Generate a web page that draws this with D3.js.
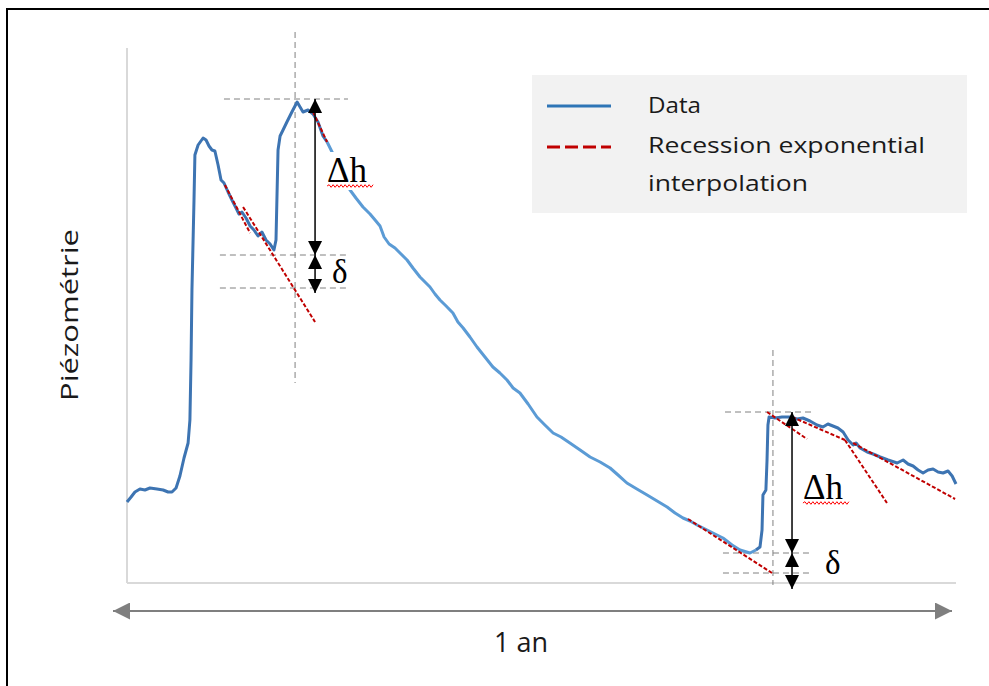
<!DOCTYPE html>
<html>
<head>
<meta charset="utf-8">
<script src="https://cdn.jsdelivr.net/npm/d3@7"></script>
<style>
  body { margin: 0; background: #fff; }
  svg { display: block; }
</style>
</head>
<body>
<svg id="chart" width="989" height="686"></svg>
<script>
// piezometric record over one year: day of year / level (arbitrary units)
var days = [0, 1.8, 3.5, 5.7, 7.9, 10.1, 13.2, 15.9, 18.1, 19.8, 21.6, 23.3, 25.1, 26.9, 27.7, 28.2, 28.6, 29.5, 29.9,
  31.3, 33.5, 34.8, 36.1, 37.4, 38.7, 40.1, 41.4, 42.7, 44.5, 46.2, 48.0, 49.3, 50.6, 52.4, 54.2, 55.9, 57.7, 59.4,
  61.2, 63.0, 64.7, 65.6, 66.0, 66.5, 67.4, 68.7, 70.4, 72.6, 74.9, 76.2, 77.5, 79.7, 81.9, 84.1, 86.3, 88.1,
  91.6, 95.1, 98.2, 100.8, 103.9, 107.0, 109.6, 111.4, 113.2, 115.4, 118.0, 120.2, 123.3, 125.9, 129.0, 131.2,
  133.4, 135.6, 137.8, 140.5, 143.5, 145.7, 148.0, 151.0, 154.1, 157.6, 161.1, 164.2, 167.3, 170.0, 173.0, 176.6,
  180.5, 184.0, 187.6, 191.1, 195.0, 199.5, 203.9, 208.3, 212.7, 216.2, 220.1, 224.5, 229.0, 233.4, 237.8, 241.3,
  244.8, 247.9, 251.0, 254.5, 258.0, 262.4, 266.4, 269.9, 274.3, 276.9, 278.7, 279.6, 280.0, 281.3, 281.8, 282.2,
  282.7, 285.3, 288.4, 291.9, 295.0, 297.6, 300.7, 303.8, 306.4, 308.6, 310.8, 313.0, 315.3, 317.5, 319.7, 321.0,
  322.8, 325.9, 328.5, 331.6, 335.1, 339.1, 341.7, 343.9, 346.1, 348.3, 350.5, 352.7, 354.9, 357.1, 359.3, 361.5,
  363.3, 365.0];
var levels = [16.2, 17.2, 18.2, 18.8, 18.6, 19.0, 18.8, 18.6, 18.2, 18.2, 19.0, 21.4, 25.0, 28.0, 32.6, 44.6, 58.6, 76.6, 85.6,
  87.6, 89.0, 88.6, 87.4, 86.6, 86.4, 83.6, 80.6, 80.0, 78.2, 76.6, 75.0, 73.8, 74.2, 73.0, 71.4, 70.6, 69.4, 70.2,
  68.6, 67.8, 66.6, 68.6, 76.6, 86.6, 89.4, 90.6, 92.2, 94.2, 96.2, 95.2, 94.2, 94.6, 93.8, 92.2, 89.4, 88.2,
  85.0, 81.6, 78.6, 77.0, 75.2, 73.8, 72.4, 71.4, 69.2, 67.8, 67.0, 66.0, 64.6, 63.0, 61.2, 60.2,
  59.2, 57.8, 56.6, 55.4, 54.0, 52.2, 51.0, 49.2, 47.2, 45.2, 43.2, 42.0, 40.6, 39.0, 38.0, 35.8,
  33.2, 31.6, 30.0, 29.2, 28.0, 26.6, 25.2, 24.2, 23.0, 21.6, 20.0, 18.8, 17.6, 16.4, 15.2, 14.0,
  13.0, 12.4, 11.6, 10.8, 10.0, 9.0, 7.6, 6.6, 6.0, 6.6, 7.2, 10.6, 17.6, 18.6, 24.6, 31.6,
  33.2, 33.0, 33.2, 33.2, 32.8, 33.0, 32.4, 31.6, 31.2, 31.8, 31.4, 31.0, 30.2, 28.6, 27.6, 28.0,
  27.0, 26.2, 25.8, 25.2, 24.6, 24.0, 24.6, 23.8, 23.4, 22.6, 22.0, 22.6, 22.8, 22.2, 22.0, 22.4,
  21.4, 19.8];

// exponential recession fits, one per segment: start day/level, end day/level
var recStartDay = [81.9, 43.1, 51.1, 247.0, 281.8, 292.8, 316.1, 319.7];
var recStartLevel = [94.2, 79.6, 75.2, 12.8, 34.2, 33.2, 28.6, 28.0];
var recEndDay = [88.1, 54.2, 82.8, 284.0, 299.4, 316.1, 334.6, 364.6];
var recEndLevel = [88.2, 70.0, 52.2, 2.0, 28.8, 28.6, 16.0, 16.8];

// the two recharge events
var peakDay = [74.0, 284.4];
var peakLevel = [96.8, 34.2];
var troughLevel = [65.6, 6.0];
var projLevel = [59.0, 2.0];
var deltaTip = [58.0, -1.2];
var arrowDay = [82.8, 292.8];
var guideFrom = [40.9, 262.4];
var guideTo = [97.3, 301.6];
var peakGuideFrom = [42.7, 263.3];
var vTop = [110.2, 46.6];
var vBottom = [40.0, -0.4];
var dhDay = [88.1, 297.6];
var dhLevel = [80.2, 16.8];
var dDay = [90.3, 307.3];
var dLevel = [60.0, 1.8];

var legendLabels = ["Data", "Recession exponential", "interpolation"];

var svg = d3.select("#chart");
var x = d3.scaleLinear().domain([0, 365]).range([127, 956]);
var y = d3.scaleLinear().domain([0, 107]).range([583, 48]);

var defs = svg.append("defs");
function marker(id, color, w, h) {
  defs.append("marker")
    .attr("id", id)
    .attr("viewBox", "0 0 10 10")
    .attr("refX", 10).attr("refY", 5)
    .attr("markerUnits", "userSpaceOnUse")
    .attr("markerWidth", w).attr("markerHeight", h)
    .attr("orient", "auto-start-reverse")
    .append("path").attr("d", "M0,0L10,5L0,10Z").attr("fill", color);
}
marker("blackHead", "#000", 14, 15);
marker("greyHead", "#7f7f7f", 17, 17);

svg.append("rect").attr("width", 989).attr("height", 686).attr("fill", "#fff");
// frame
svg.append("rect").attr("x", 7).attr("y", 9).attr("width", 1100).attr("height", 800)
  .attr("fill", "none").attr("stroke", "#000").attr("stroke-width", 2);

// axes (no ticks)
svg.append("line").attr("x1", x(0)).attr("x2", x(0)).attr("y1", y(107)).attr("y2", y(0))
  .attr("stroke", "#d9d9d9").attr("stroke-width", 2);
svg.append("line").attr("x1", x(0)).attr("x2", x(365)).attr("y1", y(0)).attr("y2", y(0))
  .attr("stroke", "#d9d9d9").attr("stroke-width", 2);

var pts = days.map(function (d, i) { return [d, levels[i]]; });
var line = d3.line().x(function (d) { return x(d[0]); }).y(function (d) { return y(d[1]); });

// grey guides
var guides = svg.append("g").attr("stroke", "#808080").attr("stroke-width", 1)
  .attr("stroke-dasharray", "6,4").attr("fill", "none");
peakDay.forEach(function (d, i) {
  guides.append("line").attr("x1", x(d)).attr("x2", x(d)).attr("y1", y(vTop[i])).attr("y2", y(vBottom[i]));
  guides.append("line").attr("x1", x(peakGuideFrom[i])).attr("x2", x(guideTo[i]))
    .attr("y1", y(peakLevel[i])).attr("y2", y(peakLevel[i]));
  [troughLevel[i], projLevel[i]].forEach(function (v) {
    guides.append("line").attr("x1", x(guideFrom[i])).attr("x2", x(guideTo[i])).attr("y1", y(v)).attr("y2", y(v));
  });
});

// data line: dark blue during the events, lighter during the long recession
var splitA = 56, splitB = 114;
[[0, splitA, "#3d74b2"], [splitA - 1, splitB, "#5b9bd5"], [splitB - 1, pts.length, "#3d74b2"]].forEach(function (s) {
  svg.append("path").datum(pts.slice(s[0], s[1]))
    .attr("d", line).attr("fill", "none").attr("stroke", s[2]).attr("stroke-width", 3)
    .attr("stroke-linejoin", "round");
});

// recession fits
svg.append("g").selectAll("line").data(recStartDay).join("line")
  .attr("x1", function (d) { return x(d); })
  .attr("y1", function (d, i) { return y(recStartLevel[i]); })
  .attr("x2", function (d, i) { return x(recEndDay[i]); })
  .attr("y2", function (d, i) { return y(recEndLevel[i]); })
  .attr("stroke", "#c00000").attr("stroke-width", 2).attr("stroke-dasharray", "4,2");

// Δh and δ arrows, labels
function wavy(x0, x1, yy) {
  var p = "M" + x0 + "," + yy;
  for (var k = x0 + 2, s = -1; k <= x1; k += 2, s = -s) p += "L" + k + "," + (yy + s * 1.3);
  return p;
}
arrowDay.forEach(function (d, i) {
  var ax = x(d);
  var tx = x(dhDay[i]), ty = y(dhLevel[i]);
  if (i === 0) {
    svg.append("rect").attr("x", tx - 2).attr("y", ty - 30).attr("width", 50).attr("height", 38).attr("fill", "#fff");
  }
  svg.append("line").attr("x1", ax).attr("x2", ax).attr("y1", y(peakLevel[i])).attr("y2", y(troughLevel[i]))
    .attr("stroke", "#000").attr("stroke-width", 1.5)
    .attr("marker-start", "url(#blackHead)").attr("marker-end", "url(#blackHead)");
  svg.append("line").attr("x1", ax).attr("x2", ax).attr("y1", y(troughLevel[i])).attr("y2", y(deltaTip[i]))
    .attr("stroke", "#000").attr("stroke-width", 1.5)
    .attr("marker-start", "url(#blackHead)").attr("marker-end", "url(#blackHead)");
  svg.append("text").attr("x", tx).attr("y", ty).text("\u0394h")
    .attr("font-family", "Liberation Serif, serif").attr("font-size", 35).attr("fill", "#000");
  svg.append("path").attr("d", wavy(tx, tx + 46, ty + 4)).attr("fill", "none")
    .attr("stroke", "#ff0000").attr("stroke-width", 1);
  svg.append("text").attr("x", x(dDay[i])).attr("y", y(dLevel[i])).text("\u03b4")
    .attr("font-family", "Liberation Serif, serif").attr("font-size", 33).attr("fill", "#000");
});

// legend
var lg = svg.append("g");
lg.append("rect").attr("x", 532).attr("y", 75).attr("width", 435).attr("height", 138).attr("fill", "#f2f2f2");
lg.append("line").attr("x1", 547).attr("x2", 611).attr("y1", 106).attr("y2", 106)
  .attr("stroke", "#2e75b6").attr("stroke-width", 3);
lg.append("line").attr("x1", 547).attr("x2", 611).attr("y1", 147).attr("y2", 147)
  .attr("stroke", "#c00000").attr("stroke-width", 3).attr("stroke-dasharray", "13,5");
var lgY = [113, 153, 191], lgW = [53, 277, 160];
lg.selectAll("text").data(legendLabels).join("text")
  .attr("x", 648).attr("y", function (d, i) { return lgY[i]; })
  .attr("textLength", function (d, i) { return lgW[i]; }).attr("lengthAdjust", "spacingAndGlyphs")
  .attr("font-family", "Open Sans, sans-serif").attr("font-size", 21).attr("fill", "#1a1a1a")
  .text(function (d) { return d; });

// y label
svg.append("text").attr("transform", "translate(78,315) rotate(-90)")
  .attr("text-anchor", "middle").attr("textLength", 172).attr("lengthAdjust", "spacingAndGlyphs")
  .attr("font-family", "Open Sans, sans-serif").attr("font-size", 23).attr("fill", "#1a1a1a")
  .text("Piézométrie");

// one year span arrow
svg.append("line").attr("x1", 113).attr("x2", 952).attr("y1", 611).attr("y2", 611)
  .attr("stroke", "#7f7f7f").attr("stroke-width", 2)
  .attr("marker-start", "url(#greyHead)").attr("marker-end", "url(#greyHead)");
svg.append("text").attr("x", 521).attr("y", 652).attr("text-anchor", "middle")
  .attr("font-family", "Open Sans, sans-serif").attr("font-size", 27).attr("fill", "#1a1a1a")
  .text("1 an");
</script>
</body>
</html>
